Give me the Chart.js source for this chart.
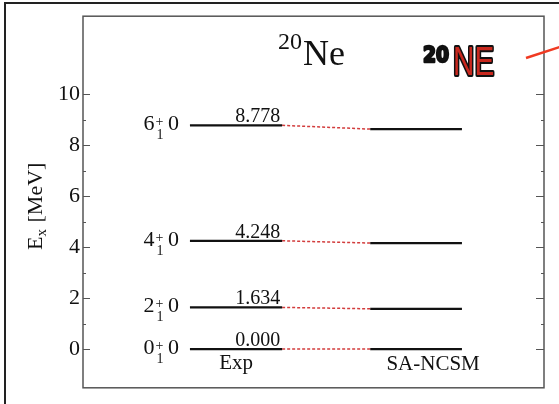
<!DOCTYPE html>
<html>
<head>
<meta charset="utf-8">
<script src="https://cdn.jsdelivr.net/npm/chart.js@4.4.0/dist/chart.umd.min.js"></script>
<style>
  body { margin: 0; background: #fff; }
  #wrap { width: 559px; height: 404px; }
</style>
</head>
<body>
<div id="wrap"><canvas id="levels" width="559" height="404"></canvas></div>
<script>
// level scheme of 20Ne, experiment vs SA-NCSM
const spins = ['0', '2', '4', '6'];
const expEnergies = [0.000, 1.634, 4.248, 8.778];
const ncsmEnergies = [0.00, 1.58, 4.16, 8.63];
const columnNames = ['Exp', 'SA-NCSM'];
const yTickValues = [0, 2, 4, 6, 8, 10];
const yMinorValues = [1, 3, 5, 7, 9];

// where the two columns sit on the hidden x axis (0..10)
const EXP_SPAN = [2.32, 4.32];
const NCSM_SPAN = [6.23, 8.22];
const SERIF = '"Liberation Serif", "Times New Roman", serif';

function buildDatasets() {
  const sets = [];
  spins.forEach((j, i) => {
    sets.push({
      data: [{ x: EXP_SPAN[0], y: expEnergies[i] }, { x: EXP_SPAN[1], y: expEnergies[i] }],
      borderColor: '#111', borderWidth: 2.2
    });
    sets.push({
      data: [{ x: EXP_SPAN[1], y: expEnergies[i] }, { x: NCSM_SPAN[0], y: ncsmEnergies[i] }],
      borderColor: '#d23c3c', borderWidth: 1.5, borderDash: [3, 2]
    });
    sets.push({
      data: [{ x: NCSM_SPAN[0], y: ncsmEnergies[i] }, { x: NCSM_SPAN[1], y: ncsmEnergies[i] }],
      borderColor: '#111', borderWidth: 2.2
    });
  });
  return sets;
}

function drawSpin(ctx, xRight, y, j) {
  ctx.font = '22px ' + SERIF;
  const wj = ctx.measureText(j).width;
  const wsp = ctx.measureText(' ').width;
  const w0 = ctx.measureText('0').width;
  ctx.font = '14px ' + SERIF;
  const ws = ctx.measureText('+').width;
  let x = xRight - (wj + ws + wsp + w0);
  ctx.textAlign = 'left';
  ctx.font = '22px ' + SERIF;
  ctx.fillText(j, x, y + 5);
  x += wj + 1;
  ctx.font = '14px ' + SERIF;
  ctx.fillText('+', x, y + 1);
  ctx.fillText('1', x + 1, y + 14);
  x += ws + wsp - 1;
  ctx.font = '22px ' + SERIF;
  ctx.fillText('0', x, y + 5);
}

const decorations = {
  id: 'decorations',
  afterDraw(chart) {
    const ctx = chart.ctx;
    const a = chart.chartArea;
    const xs = chart.scales.x;
    const ys = chart.scales.y;
    ctx.save();

    // outer frame
    ctx.strokeStyle = '#222';
    ctx.lineWidth = 2;
    ctx.beginPath();
    ctx.moveTo(5, 410); ctx.lineTo(5, 3); ctx.lineTo(565, 3);
    ctx.stroke();

    // plot frame and inward ticks
    ctx.strokeStyle = '#555';
    ctx.lineWidth = 1.5;
    ctx.strokeRect(a.left, a.top, a.right - a.left, a.bottom - a.top);
    ctx.lineWidth = 1.2;
    ctx.beginPath();
    yTickValues.forEach(v => {
      const py = Math.round(ys.getPixelForValue(v)) + 0.5;
      ctx.moveTo(a.left, py); ctx.lineTo(a.left + 7, py);
      ctx.moveTo(a.right, py); ctx.lineTo(a.right - 8, py);
    });
    yMinorValues.forEach(v => {
      const py = Math.round(ys.getPixelForValue(v)) + 0.5;
      ctx.moveTo(a.left, py); ctx.lineTo(a.left + 3, py);
      ctx.moveTo(a.right, py); ctx.lineTo(a.right - 3, py);
    });
    ctx.stroke();

    // level labels
    ctx.fillStyle = '#111';
    const expL = xs.getPixelForValue(EXP_SPAN[0]);
    const expR = xs.getPixelForValue(EXP_SPAN[1]);
    spins.forEach((j, i) => {
      const py = ys.getPixelForValue(expEnergies[i]);
      drawSpin(ctx, expL - 11, py, j);
      ctx.font = '20px ' + SERIF;
      ctx.textAlign = 'right';
      ctx.fillText(expEnergies[i].toFixed(3), expR - 2, py - 3);
    });

    // column names
    const y0 = ys.getPixelForValue(0);
    ctx.font = '21px ' + SERIF;
    ctx.textAlign = 'center';
    ctx.fillText(columnNames[0], (expL + expR) / 2, y0 + 20);
    const ncL = xs.getPixelForValue(NCSM_SPAN[0]);
    const ncR = xs.getPixelForValue(NCSM_SPAN[1]);
    ctx.fillText(columnNames[1], (ncL + ncR) / 2 + 17, y0 + 21);

    // title
    ctx.textAlign = 'left';
    ctx.font = '24px ' + SERIF;
    ctx.fillText('20', 278, 49);
    ctx.font = '36px ' + SERIF;
    ctx.fillText('Ne', 303, 65);

    // y axis title
    ctx.save();
    ctx.translate(42, 250);
    ctx.rotate(-Math.PI / 2);
    ctx.font = '22px ' + SERIF;
    ctx.fillText('E', 0, 0);
    ctx.font = '15px ' + SERIF;
    ctx.fillText('x', 13.5, 4);
    ctx.font = '22px ' + SERIF;
    ctx.fillText(' [MeV]', 22, 0);
    ctx.restore();

    // hand-drawn tag at the top right
    ctx.lineJoin = 'round';
    ctx.save();
    ctx.translate(423, 62);
    ctx.scale(0.85, 1);
    ctx.font = 'bold 22px "DejaVu Sans", sans-serif';
    ctx.strokeStyle = '#111';
    ctx.lineWidth = 2.5;
    ctx.strokeText('20', 0, 0);
    ctx.fillStyle = '#111';
    ctx.fillText('20', 0, 0);
    ctx.restore();
    ctx.save();
    ctx.translate(453, 75);
    ctx.scale(0.74, 1);
    ctx.font = '40px "Liberation Sans", sans-serif';
    ctx.lineWidth = 4;
    ctx.strokeStyle = '#111';
    ctx.strokeText('NE', 0, 0);
    ctx.fillStyle = '#c8281e';
    ctx.fillText('NE', 0, 0);
    ctx.restore();
    ctx.strokeStyle = '#f03a22';
    ctx.lineWidth = 2.5;
    ctx.beginPath();
    ctx.moveTo(526, 58); ctx.lineTo(566, 45);
    ctx.stroke();

    ctx.restore();
  }
};

new Chart(document.getElementById('levels'), {
  type: 'line',
  data: { datasets: buildDatasets() },
  options: {
    responsive: false,
    animation: false,
    devicePixelRatio: 1,
    layout: { padding: { left: 5, right: 15, top: 13, bottom: 7 } },
    elements: { point: { radius: 0 }, line: { tension: 0 } },
    plugins: { legend: { display: false }, tooltip: { enabled: false } },
    scales: {
      x: { type: 'linear', min: 0, max: 10, display: false },
      y: {
        type: 'linear',
        min: -1.52,
        max: 13.06,
        afterFit(scale) { scale.width = 78; },
        afterBuildTicks(scale) { scale.ticks = yTickValues.map(v => ({ value: v })); },
        grid: { display: false, drawTicks: false },
        border: { display: false },
        ticks: { padding: 3, color: '#111', font: { family: SERIF, size: 22 } }
      }
    }
  },
  plugins: [decorations]
});
</script>
</body>
</html>
